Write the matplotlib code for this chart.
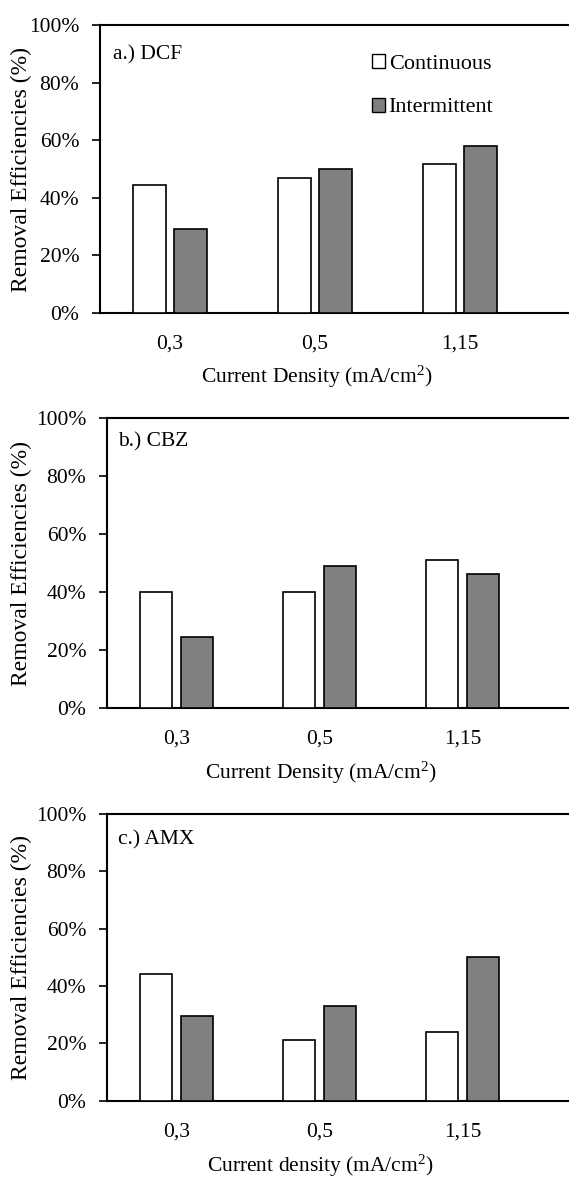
import matplotlib
matplotlib.use("Agg")
import numpy as np
import matplotlib.pyplot as plt
from matplotlib.patches import Patch
from matplotlib.ticker import PercentFormatter

plt.rcParams["font.family"] = ["Liberation Serif", "DejaVu Serif"]
plt.rcParams["mathtext.fontset"] = "custom"
plt.rcParams["mathtext.rm"] = "Liberation Serif"

densities = ["0,3", "0,5", "1,15"]
series = ["Continuous", "Intermittent"]

dcf_continuous = [44.4, 46.8, 51.9]
dcf_intermittent = [29.1, 49.9, 57.9]
cbz_continuous = [40.1, 40.1, 51.0]
cbz_intermittent = [24.7, 49.1, 46.2]
amx_continuous = [44.2, 21.0, 24.0]
amx_intermittent = [29.5, 33.0, 50.1]

panel_titles = ["a.) DCF", "b.) CBZ", "c.) AMX"]
x_titles = ["Current Density (mA/cm$\\mathregular{^2}$)",
            "Current Density (mA/cm$\\mathregular{^2}$)",
            "Current density (mA/cm$\\mathregular{^2}$)"]

W, H = 569, 1177
fig = plt.figure(figsize=(W / 100, H / 100), dpi=100)

# pixel boxes (left, top, bottom) and x-limits
boxes = [(100, 25, 313, (-0.483, 2.751)),
         (107, 418.3, 708.3, (-0.487, 2.744)),
         (107, 814, 1100.7, (-0.487, 2.744))]
title_pos = [(0.028, 0.896), (0.0245, 0.919), (0.0245, 0.909)]
xlabel_y = [-0.222, -0.224, -0.228]

data = [(dcf_continuous, dcf_intermittent),
        (cbz_continuous, cbz_intermittent),
        (amx_continuous, amx_intermittent)]

fs = 15.5
x = np.arange(len(densities))
bw = 0.225
off = 0.142

for i, ((left, top, bottom, xlim), (cont, inter)) in enumerate(zip(boxes, data)):
    ax = fig.add_axes([left / W, 1 - bottom / H, (W - left) / W, (bottom - top) / H])
    ax.bar(x - off, cont, bw, color="white", edgecolor="black", linewidth=1.2, zorder=3)
    ax.bar(x + off, inter, bw, color="#808080", edgecolor="black", linewidth=1.2, zorder=3)
    ax.set_xlim(*xlim)
    ax.set_ylim(0, 100)
    ax.set_yticks(np.arange(0, 101, 20))
    ax.yaxis.set_major_formatter(PercentFormatter(decimals=0))
    ax.set_xticks(x)
    ax.set_xticklabels(densities)
    ax.tick_params(axis="x", length=0, pad=15.5, labelsize=fs)
    ax.tick_params(axis="y", length=6, width=1.2, direction="out", pad=9, labelsize=fs)
    for s in ["left", "bottom", "top"]:
        ax.spines[s].set_linewidth(1.5)
    ax.spines["right"].set_visible(False)

    ax.set_ylabel("Removal Efficiencies (%)", fontsize=17)
    ax.yaxis.label.set_va("center")
    ax.yaxis.set_label_coords(-(left - 21) / (W - left), 0.5)
    ax.set_xlabel(x_titles[i], fontsize=fs)
    ax.xaxis.label.set_va("center")
    ax.xaxis.set_label_coords(0.462, xlabel_y[i])

    tx, ty = title_pos[i]
    ax.text(tx, ty, panel_titles[i], transform=ax.transAxes, fontsize=fs, va="center", ha="left")

    if i == 0:
        handles = [Patch(facecolor="white", edgecolor="black", linewidth=1.0),
                   Patch(facecolor="#808080", edgecolor="black", linewidth=1.0)]
        ax.legend(handles, series, loc="upper left", bbox_to_anchor=(0.58, 0.898),
                  frameon=False, fontsize=16, handlelength=0.6, handleheight=0.6,
                  handletextpad=0.15, labelspacing=1.05, borderpad=0, borderaxespad=0)

fig.savefig("out.png", dpi=100)
